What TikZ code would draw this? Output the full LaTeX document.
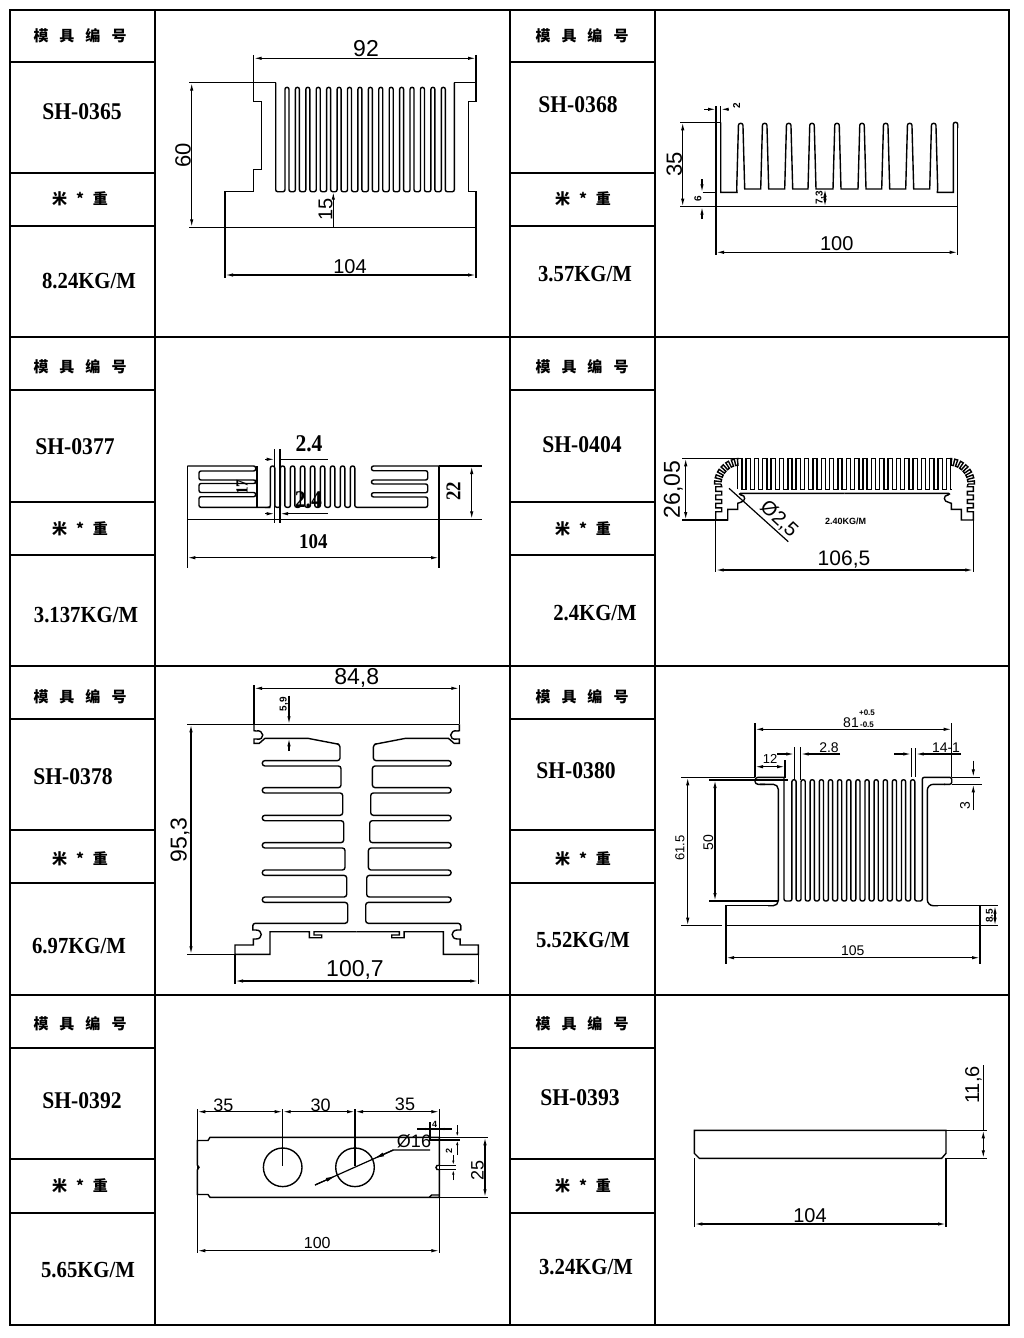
\documentclass[tikz,border=0pt]{standalone}
\usepackage{fontspec}
\setsansfont{Liberation Sans}
\newfontfamily\codefont{Liberation Serif}[FakeStretch=0.9]
\newfontfamily\cjkfont{Noto Sans CJK SC}
\usetikzlibrary{arrows.meta}

\tikzset{
	cellline/.style={line width=1.4pt},
	profile/.style={line width=1.4pt},
	extline/.style={line width=1.2pt},
	dimline/.style={line width=1.2pt,<->},
	dimarrow/.style={line width=1.2pt,->},
	cad/.style={inner sep=0pt,font=\sffamily\fontsize{#1}{#1}\selectfont},
	cadv/.style={cad=#1,rotate=90},
	codetext/.style={inner sep=0pt,font=\codefont\bfseries\fontsize{#1}{#1}\selectfont},
	codev/.style={codetext=#1,rotate=90},
	cjktext/.style={inner sep=0pt,font=\cjkfont\bfseries\fontsize{15}{15}\selectfont}
}

\begin{document}
\begin{tikzpicture}[
		x=1pt,
		y=-1pt,
		>={Latex[length=8pt,width=3.4pt]}
	]
		\useasboundingbox (0,0) rectangle (1024,1338);

		% Table
		\draw[cellline] (10,10) rectangle (1009,1325);
		\foreach \cx in {155,510,655}
			\draw[cellline] (\cx,10) -- (\cx,1325);
		\foreach \ry in {337,666,995}
			\draw[cellline] (10,\ry) -- (1009,\ry);
		\foreach \ry in {62,173,226,390,502,555,719,830,883,1048,1159,1213} {
			\draw[cellline] (10,\ry) -- (155,\ry);
			\draw[cellline] (510,\ry) -- (655,\ry);
		}

		% Table texts
		\foreach \n/\tx/\ty in {h1/80/36,h2/80/367,h3/80/697,h4/80/1024,h5/582/36,h6/582/367,h7/582/697,h8/582/1024}
			\node[cjktext] (\n) at (\tx,\ty) {模\hspace{11pt}具\hspace{11pt}编\hspace{11pt}号};
		\foreach \n/\tx/\ty in {w1/80/199,w2/80/529,w3/80/859,w4/80/1186,w5/583/199,w6/583/529,w7/583/859,w8/583/1186}
			\node[cjktext] (\n) at (\tx,\ty) {米\hspace{9pt}*\hspace{9pt}重};
		\foreach \n/\tx/\ty/\lbl in {c1/82/112/SH-0365,c2/578/105/SH-0368,c3/75/447/SH-0377,c4/582/445/SH-0404,c5/73/777/SH-0378,c6/576/771/SH-0380,c7/82/1101/SH-0392,c8/580/1098/SH-0393}
			\node[codetext=24] (\n) at (\tx,\ty) {\lbl};
		\foreach \n/\tx/\ty/\lbl in {m1/89/281/{8.24KG/M},m2/585/274/{3.57KG/M},m3/86/615/{3.137KG/M},m4/595/613/{2.4KG/M},m5/79/946/{6.97KG/M},m6/583/940/{5.52KG/M},m7/88/1270/{5.65KG/M},m8/586/1267/{3.24KG/M}}
			\node[codetext=23] (\n) at (\tx,\ty) {\lbl};

		% SH-0365
		\draw[profile] (275.7,82.7) -- (253.7,82.7) -- (253.7,101.7) -- (261.7,101.7) -- (261.7,169.3) -- (253.7,169.3) -- (253.7,191.7) -- (225,191.7) -- (225,227.3) -- (476,227.3) -- (476,191.7) -- (468.3,191.7) -- (468.3,101.7) -- (476,101.7) -- (476,82.7) -- (454.3,82.7);
		\draw[profile,rounded corners=2pt] (275.7,82.7) -- (275.7,191.7)
			\foreach \i [evaluate=\i as \fx using 287+10.42*\i] in {0,...,15} {
				-- (\fx-2,191.7) -- (\fx-2,87.3) -- (\fx+2,87.3) -- (\fx+2,191.7)
			} -- (454.3,191.7) -- (454.3,82.7);
		\draw[extline] (189,82.7) -- (253.7,82.7) (189,227.3) -- (225,227.3);
		\draw[extline] (253.7,55) -- (253.7,82.7) (476,55) -- (476,82.7);
		\draw[extline] (225,227.3) -- (225,278) (476,227.3) -- (476,278);
		\draw[dimline] (253.7,58.3) -- (476,58.3);
		\draw[dimline] (191.7,82.7) -- (191.7,227.3);
		\draw[dimline] (225,275) -- (476,275);
		\draw[dimarrow] (333.3,227.3) -- (333.3,191.7);
		\node[cad=23] (d92) at (366,49) {92};
		\node[cadv=22] (d60) at (183,155) {60};
		\node[cadv=20] (d15) at (325.7,209) {15};
		\node[cad=20] (d104a) at (350,266.7) {104};

		% SH-0368
		\draw[profile] (720.7,122.3) -- (716,122.3) -- (716,206.7) -- (957.7,206.7) -- (957.7,125);
		\draw[profile] (720.7,122.3) -- (720.7,192.3) -- (737,192.3)
			\foreach \fx in {740.7,764.7,788.7,812,837,862,885.7,909.7,933.7} {
				-- (\fx-4,189) [rounded corners=2pt] -- (\fx-2.2,123.3) -- (\fx+2.2,123.3) [sharp corners] -- (\fx+4,189)
			} -- (937.3,192.3) -- (953.3,192.3) [rounded corners=2pt] -- (953.3,122.3) -- (957.7,122.3) -- (957.7,128);
		\draw[extline] (716,106) -- (716,122.3) (720.7,106) -- (720.7,122.3);
		\draw[extline] (680,122.3) -- (716,122.3) (680,206.7) -- (716,206.7) (702.7,192.3) -- (716,192.3);
		\draw[extline] (716,206.7) -- (716,255) (957.7,206.7) -- (957.7,255);
		\draw[dimarrow] (704.3,109.3) -- (716,109.3);
		\draw[dimarrow] (728.3,109.3) -- (720.7,109.3);
		\draw[dimline] (682.7,122.3) -- (682.7,206.7);
		\draw[dimarrow] (702,179.3) -- (702,192.3);
		\draw[dimarrow] (702,219) -- (702,206.7);
		\draw[dimline] (825,189) -- (825,206.7);
		\draw[dimline] (716,252.3) -- (957.7,252.3);
		\node[cadv=10] (d2a) at (736.7,105.7) {\bfseries 2};
		\node[cadv=22] (d35a) at (674.3,164.3) {35};
		\node[cadv=10] (d6) at (698,199) {\bfseries 6};
		\node[cadv=10] (d73) at (820,197.7) {\bfseries 7,3};
		\node[cad=20] (d100a) at (836.7,244) {100};

		% SH-0377
		\draw[profile] (187.3,466) -- (187.3,519.3) -- (439,519.3) -- (439,466);
		\draw[profile] (257,466) -- (257,507.3);
		\draw[profile,rounded corners=2pt] (187.3,466) -- (255.7,466) -- (255.7,471) -- (199,471) -- (199,480) -- (255.7,480) -- (255.7,483.5) -- (199,483.5) -- (199,492.5) -- (255.7,492.5) -- (255.7,496.7) -- (199,496.7) -- (199,507.3) -- (270.4,507.3);
		\draw[profile,rounded corners=2pt] (270.4,507.3)
			\foreach \i [evaluate=\i as \fx using 272.6+10*\i] in {0,...,8} {
				-- (\fx-2.2,507.3) -- (\fx-2.2,466) -- (\fx+2.2,466) -- (\fx+2.2,507.3)
			} -- (427.7,507.3) -- (427.7,497) -- (371.5,497) -- (371.5,492.7) -- (427.7,492.7) -- (427.7,484) -- (371.5,484) -- (371.5,480) -- (427.7,480) -- (427.7,470.7) -- (371.5,470.7) -- (371.5,466) -- (439,466);
		\draw[extline] (274.7,449.3) -- (274.7,523.3) (280,449.3) -- (280,523.3);
		\draw[extline] (439,466) -- (481.7,466) (439,519.3) -- (481.7,519.3);
		\draw[extline] (187.3,519.3) -- (187.3,568.3) (439,519.3) -- (439,568.3);
		\draw[extline] (280,459.3) -- (328,459.3) (285,513.7) -- (328,513.7);
		\draw[dimarrow] (265,459.3) -- (274.7,459.3);
		\draw[dimarrow] (265,513.7) -- (274.7,513.7);
		\draw[dimarrow] (288,513.7) -- (280,513.7);
		\draw[dimline] (471.7,466) -- (471.7,519.3);
		\draw[dimline] (187.3,557.7) -- (439,557.7);
		\node[codetext=24] (d24a) at (309,444) {2.4};
		\node[codetext=24] (d24b) at (308.3,500) {2.4};
		\node[codev=17] (d17) at (242,487) {17};
		\node[codev=21] (d22) at (453.3,491) {22};
		\node[codetext=21] (d104b) at (313.3,541.7) {104};

		% SH-0404
		\draw[profile] (737.7,489.3)
			\foreach \i [evaluate=\i as \fx using 739.8+8.35*\i] in {0,...,25} {
				-- (\fx-2.1,489.3) -- (\fx-2.1,458.3) -- (\fx+2.1,458.3) -- (\fx+2.1,489.3)
			} -- (951.3,489.3);
		\foreach \s/\d in {1/0,-1/-1689} {
			\begin{scope}[xscale=\s,xshift=\d pt]
				\begin{scope}[shift={(740,484)}]
					\draw[profile] (180:19)
						\foreach \a in {180,194,...,250} {
							-- (\a:19) -- (\a:25.5) -- ({\a+7}:25.5) -- ({\a+7}:19)
						} -- (264:19) -- (264:25.5) -- (268:25.5);
				\end{scope}
				\draw[profile] (721,484) -- (721.7,486.7)
					\foreach \ty in {486.7,495,503.3} {
						-- (721.7,\ty) -- (715.7,\ty) -- (715.7,\ty+4.6) -- (721.7,\ty+4.6)
					} -- (721.7,511.7) -- (715.7,511.7) -- (715.7,520) -- (727.7,520) -- (727.7,509.3) -- (737.7,509.3) -- (737.7,503.3) -- (740,502.5) .. controls (746,502) and (746,495) .. (741,495) .. controls (739,495) and (739,493) .. (742,493.3) -- (844.5,493.3);
			\end{scope}
		}
		\draw[extline] (682.3,458.3) -- (737.7,458.3) (682.3,520) -- (727.7,520);
		\draw[extline] (715.7,520) -- (715.7,572) (973.3,520) -- (973.3,572);
		\draw[extline] (729,488.3) -- (788.3,541.7);
		\draw[dimline] (685.7,458.3) -- (685.7,520);
		\draw[dimline] (715.7,570) -- (973.3,570);
		\node[cadv=23] (d2605) at (673.3,489.3) {26,05};
		\node[cad=20,rotate=-43] (d25) at (779,519) {Ø2,5};
		\node[cad=9] (d240) at (845.7,521) {\bfseries 2.40KG/M};
		\node[cad=21] (d1065) at (844,559.3) {106,5};

		% SH-0378
		\draw[profile] (187.3,724.3) -- (459.3,724.3);
		\foreach \s/\d in {1/0,-1/-713.4} {
			\begin{scope}[xscale=\s,xshift=\d pt]
				\draw[profile] (254,724.3) -- (254,730.7) -- (256,731) .. controls (264,729) and (266,741) .. (256,739) -- (254,739) -- (254,743.3) -- (259.3,743.3) -- (265,738.3) -- (307.7,738.3) -- (339,744.3);
				\draw[profile,rounded corners=2.6pt] (337,743.9) -- (340,744.5) -- (340,760.6)
					\foreach \ty/\ny/\rx in {763.3/787.6/341,790.3/815.3/342.7,818/842.6/343.7,845.3/870/345,872.7/897/346.7,899.7/923.3/347.7} {
						-- (262.3,\ty-2.7) -- (262.3,\ty+2.7) -- (\rx,\ty+2.7) -- (\rx,\ny)
					} -- (252.7,923.3) -- (252.7,930);
				\draw[profile] (252.7,925) -- (252.7,930) -- (256,930) .. controls (263,930) and (263,939) .. (256,939) -- (253.3,939) -- (253.3,945) -- (235,945) -- (235,954.3) -- (270,954.3) -- (270,931.7) -- (309.3,931.7) -- (309.3,937.7) -- (321.7,937.7) -- (321.7,935) -- (314,935) -- (314,931.7) -- (356.7,931.7);
			\end{scope}
		}
		\draw[extline] (254,685) -- (254,724.3) (459.3,685) -- (459.3,724.3);
		\draw[extline] (187.3,954.3) -- (235,954.3);
		\draw[extline] (235,954.3) -- (235,984) (478.3,954.3) -- (478.3,984);
		\draw[extline] (289,695.7) -- (289,710);
		\draw[dimline] (254,688.3) -- (459.3,688.3);
		\draw[dimarrow] (289,705) -- (289,724.3);
		\draw[dimarrow] (289,751) -- (289,738.3);
		\draw[dimline] (191,724.3) -- (191,954.3);
		\draw[dimline] (235,981) -- (478.3,981);
		\node[cad=23] (d848) at (356.7,678.3) {84,8};
		\node[cadv=10] (d59) at (284,704.3) {\bfseries 5,9};
		\node[cadv=23] (d953) at (180,840) {95,3};
		\node[cad=23] (d1007) at (355,970) {100,7};

		% SH-0380
		\draw[profile,rounded corners=2pt] (784,777.3) -- (784,901)
			\foreach \i [evaluate=\i as \fx using 794+9.13*\i] in {0,...,13} {
				-- (\fx-2.1,901) -- (\fx-2.1,779.7) -- (\fx+2.1,779.7) -- (\fx+2.1,901)
			} -- (922.3,901) -- (922.3,777.3) -- (951.7,777.3) -- (951.7,784.3) -- (944,784.3);
		\draw[profile,rounded corners=3pt] (784,777.3) -- (755,777.3) -- (755,784.3) -- (765,784.3);
		\draw[profile,rounded corners=5pt] (760,784.3) -- (778.3,784.3) -- (778.3,905.7) -- (768,905.7);
		\draw[profile,rounded corners=6pt] (945,784.3) -- (927.3,784.3) -- (927.3,905.7) -- (938,905.7);
		\draw[profile] (772,905.7) -- (726,905.7) -- (726,925.7) -- (980,925.7) -- (980,905.7) -- (933,905.7);
		\draw[extline] (681,777.3) -- (755,777.3) (709.3,780) -- (788,780) (709.3,901) -- (778.3,901);
		\draw[extline] (681,925.7) -- (721.7,925.7);
		\draw[extline] (755,723) -- (755,777.3) (951.7,723) -- (951.7,777.3);
		\draw[extline] (785,760) -- (785,778);
		\draw[extline] (794.3,747.3) -- (794.3,780) (800.7,747.3) -- (800.7,780);
		\draw[extline] (911.3,748.3) -- (911.3,776.5) (915.7,748.3) -- (915.7,776.5);
		\draw[extline] (951.7,777.3) -- (980,777.3) (952,784.3) -- (982,784.3);
		\draw[extline] (980,905.7) -- (998,905.7) (980,925.7) -- (998,925.7);
		\draw[extline] (726,925.7) -- (726,964) (980,925.7) -- (980,964);
		\draw[dimline] (755,729.3) -- (951.7,729.3);
		\draw[dimline] (755,766.7) -- (785,766.7);
		\draw[dimarrow] (777.3,754) -- (794.3,754);
		\draw[dimarrow] (840,754) -- (800.7,754);
		\draw[dimarrow] (894.3,754) -- (911.3,754);
		\draw[dimarrow] (961,754) -- (915.7,754);
		\draw[dimarrow] (973.3,760.7) -- (973.3,777.3);
		\draw[dimarrow] (973.3,810) -- (973.3,784.3);
		\draw[dimline] (687.7,777.3) -- (687.7,925.7);
		\draw[dimline] (715,780) -- (715,901);
		\draw[dimline] (995,905.7) -- (995,925.7);
		\draw[dimline] (726,957.7) -- (980,957.7);
		\node[cad=14] (d81) at (851,722.3) {81};
		\node[cad=8] (dplus) at (867,712.3) {\bfseries +0.5};
		\node[cad=8] (dminus) at (867,724.3) {\bfseries -0.5};
		\node[cad=13] (d12) at (770,759.3) {12};
		\node[cad=14] (d28) at (829,747.3) {2.8};
		\node[cad=14] (d141) at (946,747.3) {14-1};
		\node[cadv=14] (d3) at (965,806) {3};
		\node[cadv=13] (d615) at (680,848.3) {61.5};
		\node[cadv=14] (d50) at (708.3,842.7) {50};
		\node[cadv=10] (d85) at (989.3,915.7) {\bfseries 8.5};
		\node[cad=14] (d105) at (852.7,950.7) {105};

		% SH-0392
		\draw[profile] (197.3,1140.5) -- (208,1140.5) -- (210,1137.3) -- (439.3,1137.3) -- (439.3,1165.5) -- (437,1165.5) -- (436,1167.5) -- (437,1169.5) -- (439.3,1169.5) -- (439.3,1197.3) -- (210,1197.3) -- (208,1194.5) -- (197.3,1194.5) -- (197.3,1170) -- (199,1167.3) -- (197.3,1165) -- cycle;
		\draw[profile] (429.3,1197.3) -- (431.7,1195) -- (439.3,1195);
		\draw[profile] (282.7,1167.3) circle[radius=19.3pt];
		\draw[profile] (355,1167.3) circle[radius=19.3pt];
		\draw[extline] (197.3,1109) -- (197.3,1253) (439.3,1109) -- (439.3,1253);
		\draw[extline] (282.7,1109) -- (282.7,1166) (355,1109) -- (355,1166);
		\draw[extline] (439.3,1137.3) -- (488.3,1137.3) (429.3,1140) -- (460,1140) (429.3,1197.3) -- (488.3,1197.3);
		\draw[extline] (430,1122) -- (430,1140);
		\draw[extline] (440,1165.5) -- (456,1165.5) (440,1169.5) -- (456,1169.5);
		\draw[extline] (315,1185) -- (393.3,1150) -- (430,1150);
		\draw[dimarrow,>={Latex[length=11pt,width=4pt]}] (393.3,1150) -- (373.3,1158.9);
		\draw[dimarrow,>={Latex[length=11pt,width=4pt]}] (315,1185) -- (336.7,1175.3);
		\draw[dimline] (197.3,1111.7) -- (282.7,1111.7);
		\draw[dimline] (282.7,1111.7) -- (355,1111.7);
		\draw[dimline] (355,1111.7) -- (439.3,1111.7);
		\draw[extline] (417,1129) -- (451.7,1129);
		\draw[dimarrow,>={Latex[length=5pt,width=2.4pt]}] (420,1129) -- (430,1129);
		\draw[dimarrow,>={Latex[length=5pt,width=2.4pt]}] (450,1129) -- (439.3,1129);
		\draw[dimarrow,>={Latex[length=5pt,width=2.4pt]}] (457.3,1125) -- (457.3,1137.3);
		\draw[dimarrow,>={Latex[length=5pt,width=2.4pt]}] (457.3,1155) -- (457.3,1140);
		\draw[dimarrow,>={Latex[length=5pt,width=2.4pt]}] (453.3,1155) -- (453.3,1165.5);
		\draw[dimarrow,>={Latex[length=5pt,width=2.4pt]}] (453.3,1180) -- (453.3,1169.5);
		\draw[dimline] (485,1137.3) -- (485,1197.3);
		\draw[dimline] (197.3,1250.7) -- (439.3,1250.7);
		\node[cad=18] (d35b) at (223.3,1105) {35};
		\node[cad=18] (d30) at (320.7,1105) {30};
		\node[cad=18] (d35c) at (405,1104) {35};
		\node[cad=18] (d16) at (414,1141.7) {Ø16};
		\node[cad=9] (d4) at (434.7,1124.3) {\bfseries 4};
		\node[cadv=9] (d2b) at (449,1150.7) {\bfseries 2};
		\node[cadv=18] (d25b) at (477.3,1170) {25};
		\node[cad=16] (d100b) at (317.3,1243.3) {100};

		% SH-0393
		\draw[profile] (694.3,1153.3) -- (694.3,1130.3) -- (946,1130.3) -- (946,1153.3) -- (941.7,1158.3) -- (699.3,1158.3) -- cycle;
		\draw[extline] (694.3,1158.3) -- (694.3,1227) (946,1158.3) -- (946,1227);
		\draw[extline] (946,1130.3) -- (986.7,1130.3) (946,1158.3) -- (986.7,1158.3);
		\draw[extline] (983.3,1065) -- (983.3,1130.3);
		\draw[dimline] (983.3,1130.3) -- (983.3,1158.3);
		\draw[dimline] (694.3,1224) -- (946,1224);
		\node[cadv=20] (d116) at (973.3,1085) {11,6};
		\node[cad=20] (d104c) at (810,1215.7) {104};
	\end{tikzpicture}
\end{document}
